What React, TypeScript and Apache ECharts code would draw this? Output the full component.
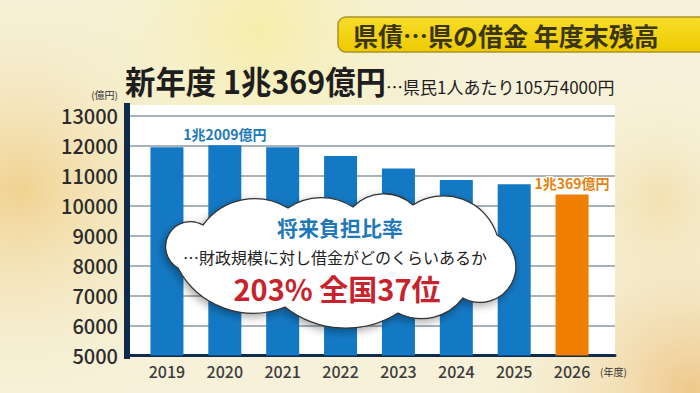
import React, { useEffect, useRef } from "react";
import * as echarts from "echarts";

const years = ["2019", "2020", "2021", "2022", "2023", "2024", "2025", "2026"];
const debt = [11940, 12009, 11940, 11650, 11230, 10850, 10710, 10369];
const highlightIndex = 7;
const labelTexts: Record<number, string> = { 1: "1兆2009億円", 7: "1兆369億円" };
const yMin = 5000;
const yMax = 13000;
const yStep = 1000;

const titleText = "県債…県の借金 年度末残高";
const headline = "新年度 1兆369億円";
const subline = "…県民1人あたり105万4000円";
const cloudTitle = "将来負担比率";
const cloudDesc = "…財政規模に対し借金がどのくらいあるか";
const cloudValue = "203% 全国37位";
const yUnit = "(億円)";
const xUnit = "(年度)";

const FONT = "'Noto Sans CJK JP', 'Noto Sans', sans-serif";

const cloudD =
  "M203 225 A64 64 0 0 1 288 208 A58 58 0 0 1 353 207 A43 43 0 0 1 413 205 A56 56 0 0 1 497 235 A35 35 0 0 1 463 298 A52 52 0 0 1 398 313 A98 98 0 0 1 285 307 A85 85 0 0 1 178 268 A24 24 0 0 1 203 225 Z";

let registered = false;

export default function App() {
  const ref = useRef<HTMLDivElement>(null);
  useEffect(() => {
    document.body.style.margin = "0";
    if (!ref.current) return;
    if (!registered) {
      echarts.graphic.registerShape("cloud", echarts.graphic.extendPath(cloudD, {}));
      registered = true;
    }
    const chart = echarts.init(ref.current, null, { renderer: "svg" });
    const radial = (color: string) => ({
      type: "radial",
      x: 0.5,
      y: 0.5,
      r: 0.5,
      colorStops: [
        { offset: 0, color },
        { offset: 1, color: "rgba(246,241,214,0)" },
      ],
    });
    chart.setOption({
      animation: false,
      backgroundColor: "#f6f1d8",
      textStyle: { fontFamily: FONT },
      graphic: [
        { type: "rect", z: -100, shape: { x: 0, y: 0, width: 700, height: 393 }, style: { fill: "#f6f1d8" } },
        { type: "circle", z: -99, shape: { cx: 20, cy: 190, r: 230 }, style: { fill: radial("rgba(240,208,140,0.95)") } },
        { type: "circle", z: -99, shape: { cx: 690, cy: 390, r: 220 }, style: { fill: radial("rgba(238,196,130,0.9)") } },
        { type: "circle", z: -99, shape: { cx: 260, cy: 30, r: 220 }, style: { fill: radial("rgba(246,236,150,0.7)") } },
        { type: "circle", z: -99, shape: { cx: 660, cy: 200, r: 120 }, style: { fill: radial("rgba(240,214,150,0.6)") } },
        { type: "rect", z: -50, shape: { x: 130, y: 105, width: 485, height: 251 }, style: { fill: "#ffffff" } },
        { type: "rect", z: 50, shape: { x: 124, y: 103, width: 6, height: 256 }, style: { fill: "#0e2b4c" } },
        {
          type: "rect",
          z: 50,
          shape: { x: 338, y: 17, width: 380, height: 35, r: 8 },
          style: {
            fill: { type: "linear", x: 0, y: 0, x2: 0, y2: 1, colorStops: [{ offset: 0, color: "#f7dc2a" }, { offset: 1, color: "#eecb00" }] },
            stroke: "#a8922e",
            lineWidth: 1.5,
          },
        },
        { type: "text", z: 51, x: 353, y: 35, style: { text: titleText, font: `bold 25px ${FONT}`, fill: "#3a3515", verticalAlign: "middle" } },
        { type: "text", z: 51, x: 125, y: 80, scaleX: 0.95, style: { text: headline, font: `bold 32px ${FONT}`, fill: "#1e1e1e", verticalAlign: "middle" } },
        { type: "text", z: 51, x: 386, y: 86, style: { text: subline, font: `17px ${FONT}`, fill: "#1e1e1e", verticalAlign: "middle" } },
        { type: "text", z: 51, x: 118, y: 94, style: { text: yUnit, font: `10px ${FONT}`, fill: "#333", align: "right", verticalAlign: "middle" } },
        { type: "text", z: 51, x: 600, y: 371, style: { text: xUnit, font: `10px ${FONT}`, fill: "#333", verticalAlign: "middle" } },
        {
          type: "cloud",
          z: 100,
          x: 0,
          y: 0,
          style: {
            fill: "#ffffff",
            stroke: "#333333",
            lineWidth: 1.3,
            shadowBlur: 8,
            shadowColor: "rgba(0,0,0,0.35)",
            shadowOffsetX: -2,
            shadowOffsetY: 3,
          },
        },
        { type: "text", z: 101, x: 340, y: 227, style: { text: cloudTitle, font: `bold 21px ${FONT}`, fill: "#1f78b8", align: "center", verticalAlign: "middle" } },
        { type: "text", z: 101, x: 335, y: 257, style: { text: cloudDesc, font: `16px ${FONT}`, fill: "#222", align: "center", verticalAlign: "middle" } },
        { type: "text", z: 101, x: 337, y: 288, style: { text: cloudValue, font: `bold 29px ${FONT}`, fill: "#c8232c", align: "center", verticalAlign: "middle" } },
      ],
      grid: [
        { left: 130, right: 85, top: 115.5, bottom: 37.5 },
        { left: 138, right: 99, top: 115.5, bottom: 37.5 },
      ],
      xAxis: [
        {
          gridIndex: 0,
          type: "value",
          min: 0,
          max: 1,
          axisLabel: { show: false },
          axisTick: { show: false },
          splitLine: { show: false },
          axisLine: { show: true, lineStyle: { color: "#0e2b4c", width: 3 } },
        },
        {
          gridIndex: 1,
          type: "category",
          data: years,
          axisLine: { show: false },
          axisTick: { show: false },
          axisLabel: { fontSize: 16, fontWeight: 500, color: "#3c3c3c", margin: 7, fontFamily: FONT },
        },
      ],
      yAxis: [
        {
          gridIndex: 0,
          type: "value",
          min: yMin,
          max: yMax,
          interval: yStep,
          axisLine: { show: false },
          axisTick: { show: false },
          axisLabel: { fontSize: 20, fontWeight: 500, color: "#2b2b2b", margin: 12, fontFamily: FONT, formatter: (v: number) => String(v) },
          splitLine: { show: true, lineStyle: { color: "#8d98a0", width: 1.5 } },
        },
        {
          gridIndex: 1,
          type: "value",
          min: yMin,
          max: yMax,
          interval: yStep,
          show: false,
        },
      ],
      series: [
        {
          type: "bar",
          xAxisIndex: 1,
          yAxisIndex: 1,
          barWidth: 33,
          z: 5,
          data: debt.map((v, i) => {
            const isHi = i === highlightIndex;
            const item: any = { value: v, itemStyle: { color: isHi ? "#ef7f00" : "#1479c4" } };
            if (labelTexts[i]) {
              item.label = {
                show: true,
                position: "top",
                distance: 4,
                formatter: labelTexts[i],
                fontSize: 14,
                fontWeight: "bold",
                color: isHi ? "#e8830f" : "#1f7ab8",
                fontFamily: FONT,
                textBorderColor: isHi ? "#ffffff" : "transparent",
                textBorderWidth: isHi ? 2 : 0,
              };
            }
            return item;
          }),
        },
      ],
    });
    return () => chart.dispose();
  }, []);
  return <div ref={ref} style={{ width: 700, height: 393 }} />;
}
